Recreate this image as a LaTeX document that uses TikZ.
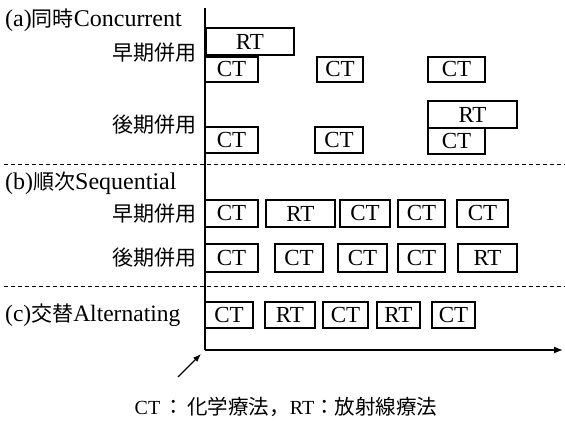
\documentclass[tikz,border=0pt]{standalone}
\usepackage{fontspec}
\setmainfont{Liberation Serif}
\newfontfamily\jp{Noto Sans CJK JP}
\usetikzlibrary{arrows.meta}
\newcommand\J[1]{{\fontsize{21}{21}\jp #1}}
\newcommand\Jc[1]{{\fontsize{20.5}{20.5}\jp #1}}
\tikzset{
  tbox/.style={draw, line width=1.1pt, inner sep=0pt, outer sep=0pt, font=\fontsize{23}{23}\selectfont},
  lbl/.style={inner sep=0pt, font=\fontsize{24}{24}\selectfont},
  sep/.style={line width=1pt, dash pattern=on 4pt off 3pt},
  axis/.style={line width=1.3pt},
}
\newcommand\tbx[6]{\node[tbox, minimum width={(#4-#2)*1pt}, minimum height={(#5-#3)*1pt}] (#1) at ({(#2+#4)/2},{-(#3+#5)/2}) {#6};}
\begin{document}
\begin{tikzpicture}[x=1pt,y=1pt]
\useasboundingbox (0,0) rectangle (565,-427);
% axes
\coordinate (top) at (205,-8);
\coordinate (org) at (205,-350);
\coordinate (end) at (563,-350);
\draw[axis] (top) -- (org);
\draw[axis, -{Latex[length=9pt,width=7pt]}] (org) -- (end);
% separators
\coordinate (s1a) at (4,-165); \coordinate (s1b) at (565,-165);
\coordinate (s2a) at (4,-287); \coordinate (s2b) at (565,-287);
\draw[sep] (s1a) -- (s1b);
\draw[sep] (s2a) -- (s2b);
% labels
\node[lbl, anchor=west] (la) at (5,-20) {(a)\J{同時}Concurrent};
\node[lbl, anchor=east] (la1) at (197,-53) {\J{早期併用}};
\node[lbl, anchor=east] (la2) at (197,-125) {\J{後期併用}};
\node[lbl, anchor=west] (lb) at (5,-183) {(b)\J{順次}Sequential};
\node[lbl, anchor=east] (lb1) at (197,-214) {\J{早期併用}};
\node[lbl, anchor=east] (lb2) at (197,-258) {\J{後期併用}};
\node[lbl, anchor=west, font=\fontsize{23.5}{23.5}\selectfont] (lc) at (5,-315) {(c)\J{交替}Alternating};
% (a) early
\tbx{a1}{206}{28}{294}{55}{RT}
\tbx{a2}{205}{57}{258}{82}{CT}
\tbx{a3}{317}{57}{363}{82}{CT}
\tbx{a4}{428}{57}{485}{82}{CT}
% (a) late
\tbx{a5}{205}{127}{258}{153}{CT}
\tbx{a6}{315}{127}{363}{153}{CT}
\tbx{a7}{428}{101}{517}{128}{RT}
\tbx{a8}{428}{128}{485}{154}{CT}
% (b) early
\tbx{b1}{205}{200}{258}{227}{CT}
\tbx{b2}{266}{200}{335}{227}{RT}
\tbx{b3}{340}{200}{390}{227}{CT}
\tbx{b4}{398}{200}{445}{227}{CT}
\tbx{b5}{457}{200}{508}{227}{CT}
% (b) late
\tbx{b6}{205}{244}{258}{272}{CT}
\tbx{b7}{275}{244}{323}{272}{CT}
\tbx{b8}{338}{244}{387}{272}{CT}
\tbx{b9}{398}{244}{445}{272}{CT}
\tbx{b10}{458}{244}{517}{272}{RT}
% (c)
\tbx{c1}{205}{302}{253}{328}{CT}
\tbx{c2}{265}{302}{315}{328}{RT}
\tbx{c3}{323}{302}{368}{328}{CT}
\tbx{c4}{377}{302}{420}{328}{RT}
\tbx{c5}{432}{302}{475}{328}{CT}
% small arrow
\coordinate (ps) at (178,-377);
\draw[line width=1.2pt, -{Latex[length=8pt,width=6pt]}] (ps) -- (201,-354);
% caption
\node[inner sep=0pt, font=\fontsize{20}{20}\selectfont] (cap) at (286,-407) {CT\,\Jc{：}\,\Jc{化学療法，}RT\Jc{：放射線療法}};
\end{tikzpicture}
\end{document}
